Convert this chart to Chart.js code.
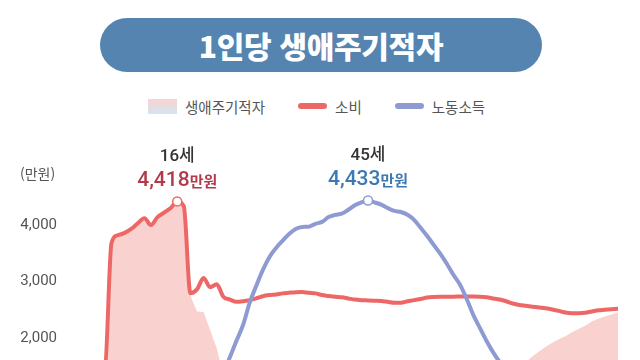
<!doctype html>
<html lang="ko">
  <head>
    <meta charset="utf-8">
    <title>1인당 생애주기적자</title>
    <style>
      * { margin: 0; padding: 0; }
      body {
        width: 640px;
        height: 360px;
        overflow: hidden;
        background: #fff;
        position: relative;
        font-family: "Noto Sans CJK KR", sans-serif;
      }
      .title {
        position: absolute;
        left: 100px;
        top: 18px;
        width: 442px;
        height: 54px;
        border-radius: 27px;
        background: #5584b0;
        color: #fff;
        font-size: 30px;
        font-weight: 900;
        line-height: 54px;
        text-align: center;
        letter-spacing: -0.3px;
      }
      .legend {
        position: absolute;
        left: 148px;
        top: 94px;
        height: 24px;
        display: flex;
        align-items: center;
        font-size: 14.5px;
        color: #555;
      }
      .legend span { margin-right: 33px; }
      .sw { width: 29px; margin-right: 8px; }
      .sw.area { height: 15px; background: linear-gradient(#f9d2cf, #d4e5f1); }
      .sw.line { height: 6px; border-radius: 3px; }
      #chart { position: absolute; left: 0; top: 0; }
    </style>
  </head>
  <body>
    <div class="title">1인당 생애주기적자</div>
    <div class="legend">
      <div class="sw area"></div><span>생애주기적자</span>
      <div class="sw line" style="background:#ee6767"></div><span>소비</span>
      <div class="sw line" style="background:#8e9bd3"></div><span>노동소득</span>
    </div>
    <canvas id="chart" width="640" height="600"></canvas>

    <script src="https://cdn.jsdelivr.net/npm/chart.js/dist/chart.umd.min.js"></script>
    <script>
    // 나이 (세)
    const ages = [0,1,2,3,4,5,6,7,8,9,10,11,12,13,14,15,16,17,18,19,20,21,22,23,24,25,26,27,28,29,
      30,31,32,33,34,35,36,37,38,39,40,41,42,43,44,45,46,47,48,49,50,51,52,53,54,55,56,57,58,59,
      60,61,62,63,64,65,66,67,68,69,70,71,72,73,74,75,76,77,78,79,80,81,82,83];

    // 소비 (만원)
    const consumption = [1180,1240,1300,1350,1400,1450,3680,3820,3860,3930,4030,4120,4000,4140,4220,4300,4418,4330,2790,2860,
      3060,2900,2950,2730,2680,2640,2650,2670,2700,2740,2760,2770,2790,2800,2810,2815,2800,2790,2760,2745,
      2730,2720,2700,2680,2670,2665,2660,2655,2640,2625,2625,2650,2670,2690,2715,2725,2730,2730,2730,2735,
      2735,2735,2730,2720,2700,2680,2650,2610,2585,2570,2555,2540,2525,2505,2480,2450,2440,2440,2445,2470,
      2490,2500,2510,2520];

    // 노동소득 (만원)
    const labor = [0,0,0,0,0,0,0,0,0,0,0,0,0,0,0,5,10,20,40,390,
      600,760,1130,1380,1660,1950,2230,2620,2920,3200,3430,3590,3720,3840,3930,3965,3970,4020,4055,4140,
      4180,4200,4270,4350,4400,4433,4400,4360,4300,4250,4230,4180,4090,3950,3805,3645,3490,3310,3115,2940,
      2690,2410,2180,1950,1750,1575,1420,1270,1130,1000,880,780,680,590,500,420,340,280,230,180,
      150,120,95,70];

    const yTicks = [2000, 3000, 4000];

    const RED = '#ee6767', BLUE = '#8e9bd3';

    // 생애주기적자 = 소비 - 노동소득
    const deficit = consumption.map((v, i) => v - labor[i]);
    const pts = arr => arr.map((v, i) => ({x: ages[i], y: v}));

    const peaks = [
      {arr: consumption, color: '#b23a4a'},
      {arr: labor, color: '#3d79b2'}
    ].map(p => {
      const i = p.arr.indexOf(Math.max(...p.arr));
      return {idx: i, age: ages[i], value: p.arr[i], color: p.color};
    });

    const peakRadius = arr => {
      const i = arr.indexOf(Math.max(...arr));
      return ctx => ctx.dataIndex === i ? 4.5 : 0;
    };

    const labels = {
      id: 'labels',
      afterDatasetsDraw(chart) {
        const {ctx, scales: {x, y}} = chart;
        ctx.save();
        ctx.textBaseline = 'middle';
        ctx.fillStyle = '#555';
        ctx.font = '14px "Noto Sans CJK KR"';
        ctx.textAlign = 'left';
        ctx.fillText('(만원)', 20, 174);

        peaks.forEach(p => {
          const px = x.getPixelForValue(p.age);
          const py = y.getPixelForValue(p.value);
          ctx.textAlign = 'center';
          ctx.fillStyle = '#333';
          ctx.font = '500 17px Roboto, "Noto Sans CJK KR"';
          ctx.fillText(p.age + '세', px, py - 45);

          const num = p.value.toLocaleString('en-US');
          const f1 = '500 21px Roboto', f2 = 'bold 15px "Noto Sans CJK KR"';
          ctx.font = f1; const w1 = ctx.measureText(num).width;
          ctx.font = f2; const w2 = ctx.measureText('만원').width;
          let sx = px - (w1 + w2) / 2;
          ctx.textAlign = 'left';
          ctx.fillStyle = p.color;
          ctx.font = f1; ctx.fillText(num, sx, py - 21);
          ctx.font = f2; ctx.fillText('만원', sx + w1, py - 20);
        });
        ctx.restore();
      }
    };

    new Chart(document.getElementById('chart'), {
      type: 'line',
      data: {
        datasets: [
          {
            label: '생애주기적자',
            data: pts(deficit),
            borderWidth: 0,
            pointRadius: 0,
            tension: 0,
            fill: {target: 'origin', above: '#f9d2cf', below: '#d4e5f1'},
            order: 3
          },
          {
            label: '소비',
            data: pts(consumption),
            borderColor: RED,
            borderWidth: 4,
            borderCapStyle: 'round',
            borderJoinStyle: 'round',
            cubicInterpolationMode: 'monotone',
            pointRadius: peakRadius(consumption),
            pointBackgroundColor: '#fff',
            pointBorderColor: RED,
            pointBorderWidth: 1.5,
            fill: false,
            order: 2
          },
          {
            label: '노동소득',
            data: pts(labor),
            borderColor: BLUE,
            borderWidth: 4,
            borderCapStyle: 'round',
            borderJoinStyle: 'round',
            cubicInterpolationMode: 'monotone',
            pointRadius: peakRadius(labor),
            pointBackgroundColor: '#fff',
            pointBorderColor: BLUE,
            pointBorderWidth: 1.5,
            fill: false,
            order: 1
          }
        ]
      },
      options: {
        responsive: false,
        animation: false,
        devicePixelRatio: 1,
        layout: {padding: {left: 18, right: 22, top: 168.5, bottom: 0}},
        plugins: {legend: {display: false}, tooltip: {enabled: false}},
        scales: {
          x: {
            type: 'linear',
            min: ages[0],
            max: ages[ages.length - 1],
            grid: {display: false},
            border: {display: false},
            ticks: {stepSize: 10, color: '#555'},
            afterFit(s) { s.height = 36; }
          },
          y: {
            min: -2000,
            max: 5000,
            grid: {display: false, drawTicks: false},
            border: {display: false},
            afterBuildTicks(s) { s.ticks = yTicks.map(v => ({value: v})); },
            ticks: {
              padding: 15,
              color: '#555',
              font: {family: 'Roboto', size: 15},
              callback: v => v.toLocaleString('en-US')
            },
            afterFit(s) { s.width = 54; }
          }
        }
      },
      plugins: [labels]
    });
    </script>
  </body>
</html>
